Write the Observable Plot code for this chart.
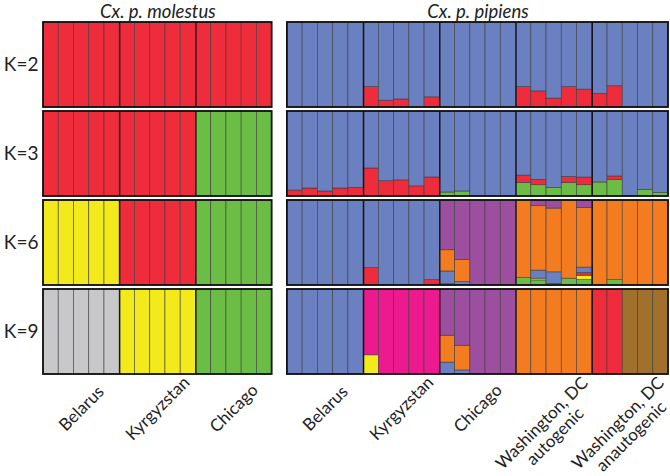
<!DOCTYPE html>
<html><head><meta charset="utf-8">
<script src="https://cdn.jsdelivr.net/npm/d3@7"></script>
<script src="https://cdn.jsdelivr.net/npm/@observablehq/plot@0.6"></script>
<style>body{margin:0;background:#fff;}</style>
</head><body><div id="chart"></div>
<script>
// ---- categories ----
const Ks = ["K=2", "K=3", "K=6", "K=9"];
const groups = ["Cx. p. molestus", "Cx. p. pipiens"];
const popsMolestus = ["Belarus", "Kyrgyzstan", "Chicago"];
const popsPipiens = ["Belarus", "Kyrgyzstan", "Chicago", "Washington, DC\nautogenic", "Washington, DC\nanautogenic"];
const perPop = 5;

// ---- clusters and colours ----
const clusterNames = ["cBlue", "cRed", "cGreen", "cYellow", "cOrange", "cPurple", "cPink", "cGray", "cBrown"];
const clusterColors = ["#6b80c0", "#ee2c3c", "#6bbd45", "#f3ea1c", "#f47c20", "#9b4f9e", "#ec1a8e", "#c8c8ca", "#a0702c"];

// ---- Cx. p. molestus: one cluster per population ----
const molestusK2 = ["cRed", "cRed", "cRed"];
const molestusK3 = ["cRed", "cRed", "cGreen"];
const molestusK6 = ["cYellow", "cRed", "cGreen"];
const molestusK9 = ["cGray", "cYellow", "cGreen"];

// ---- Cx. p. pipiens: 25 individuals (5 per population) ----
// K=2: red share (rest blue)
const pipiensK2red = [0,0,0,0,0, 0.24,0.08,0.095,0,0.12, 0,0,0,0,0, 0.24,0.19,0.105,0.24,0.21, 0.16,0.25,0,0,0];
// K=3: green (bottom) and red shares (rest blue)
const pipiensK3green = [0,0,0,0,0, 0,0,0,0,0, 0.047,0.059,0,0,0, 0.16,0.133,0.10,0.16,0.133, 0.165,0.196,0,0.078,0.043];
const pipiensK3red = [0.07,0.094,0.059,0.094,0.102, 0.33,0.18,0.19,0.12,0.224, 0,0,0,0,0, 0.086,0.063,0,0.07,0.09, 0,0.04,0,0,0];
// K=6: components bottom to top
const pipiensK6 = [
  [["cBlue",1]], [["cBlue",1]], [["cBlue",1]], [["cBlue",1]], [["cBlue",1]],
  [["cRed",0.205],["cBlue",0.795]], [["cBlue",1]], [["cBlue",1]], [["cBlue",1]], [["cRed",0.063],["cBlue",0.937]],
  [["cGreen",0.015],["cBlue",0.15],["cOrange",0.25],["cPurple",0.585]], [["cBlue",0.04],["cOrange",0.26],["cPurple",0.70]], [["cPurple",1]], [["cPurple",1]], [["cPurple",1]],
  [["cGreen",0.087],["cOrange",0.913]],
  [["cGreen",0.06],["cYellow",0.02],["cBlue",0.095],["cOrange",0.758],["cPurple",0.067]],
  [["cGreen",0.02],["cBlue",0.135],["cOrange",0.75],["cPurple",0.095]],
  [["cGreen",0.08],["cOrange",0.92]],
  [["cGreen",0.063],["cYellow",0.052],["cRed",0.032],["cBlue",0.063],["cOrange",0.703],["cPurple",0.087]],
  [["cOrange",1]], [["cGreen",0.063],["cOrange",0.937]], [["cOrange",1]], [["cOrange",1]], [["cOrange",1]]
];
// K=9: components bottom to top
const pipiensK9 = [
  [["cBlue",1]], [["cBlue",1]], [["cBlue",1]], [["cBlue",1]], [["cBlue",1]],
  [["cYellow",0.226],["cPink",0.774]], [["cPink",1]], [["cPink",1]], [["cPink",1]], [["cPink",1]],
  [["cBlue",0.139],["cOrange",0.317],["cPurple",0.544]], [["cBlue",0.048],["cOrange",0.29],["cPurple",0.662]], [["cPurple",1]], [["cPurple",1]], [["cPurple",1]],
  [["cOrange",1]], [["cOrange",1]], [["cOrange",1]], [["cOrange",1]], [["cOrange",1]],
  [["cRed",1]], [["cRed",1]], [["cBrown",1]], [["cBrown",1]], [["cBrown",1]]
];

// ---- build table ----
const molStart = 0, pipStart = molestusK2.length * perPop + 1;
const molEnd = molStart + popsMolestus.length * perPop;
const pipEnd = pipStart + popsPipiens.length * perPop;
const rows = [];
function addInd(K, xi, comps) {
  let acc = 0;
  for (const [cluster, q] of comps) {
    rows.push({K, x1: xi, x2: xi + 1, y1: acc, y2: acc + q, cluster});
    acc += q;
  }
}
const molestusByK = {"K=2": molestusK2, "K=3": molestusK3, "K=6": molestusK6, "K=9": molestusK9};
for (const K of Ks) {
  molestusByK[K].forEach((c, p) => {
    for (let j = 0; j < perPop; j++) addInd(K, molStart + p * perPop + j, [[c, 1]]);
  });
}
pipiensK2red.forEach((r, i) => addInd("K=2", pipStart + i, [["cRed", r], ["cBlue", 1 - r]]));
pipiensK3red.forEach((r, i) => {
  const g = pipiensK3green[i];
  addInd("K=3", pipStart + i, [["cGreen", g], ["cRed", r], ["cBlue", 1 - g - r]]);
});
pipiensK6.forEach((c, i) => addInd("K=6", pipStart + i, c));
pipiensK9.forEach((c, i) => addInd("K=9", pipStart + i, c));
const data = rows.filter(d => d.y2 - d.y1 > 0);

const panels = [{x1: molStart, x2: molEnd, name: groups[0]}, {x1: pipStart, x2: pipEnd, name: groups[1]}];
const separators = [];
popsMolestus.forEach((p, j) => { if (j > 0) separators.push(molStart + j * perPop); });
popsPipiens.forEach((p, j) => { if (j > 0) separators.push(pipStart + j * perPop); });
const popLabels = [
  ...popsMolestus.map((name, j) => ({name, x: molStart + j * perPop + perPop / 2})),
  ...popsPipiens.map((name, j) => ({name, x: pipStart + j * perPop + perPop / 2}))
];

const chart = Plot.plot({
  width: 670,
  height: 476,
  marginTop: 21,
  marginBottom: 101,
  marginLeft: 43,
  marginRight: 2,
  style: {fontFamily: "Lato, 'Open Sans', sans-serif", background: "#fff", overflow: "visible"},
  x: {domain: [0, pipEnd], axis: null},
  y: {domain: [0, 1], axis: null},
  fy: {domain: Ks, paddingInner: 0.045, paddingOuter: 0, axis: null},
  color: {type: "ordinal", domain: clusterNames, range: clusterColors},
  marks: [
    Plot.rect(data, {x1: "x1", x2: "x2", y1: "y1", y2: "y2", fy: "K", fill: "cluster", stroke: "#3a3a3a", strokeWidth: 0.7, strokeOpacity: 0.8}),
    Plot.ruleX(separators, {x: d => d, y1: 0, y2: 1, stroke: "#111", strokeWidth: 1.3}),
    Plot.rect(panels, {x1: "x1", x2: "x2", y1: 0, y2: 1, fill: "none", stroke: "#111", strokeWidth: 1.8}),
    Plot.text(panels, {x: d => (d.x1 + d.x2) / 2, y: 1, fy: () => "K=2", text: "name", dy: -10, fontSize: 18.5, fontStyle: "italic", fill: "#222"}),
    Plot.text(Ks, {fy: d => d, text: d => d, frameAnchor: "left", textAnchor: "end", dx: -5, fontSize: 19, fill: "#222"}),
    Plot.text(popLabels.filter(d => !d.name.includes("\n")), {x: "x", y: 0, fy: () => "K=9", text: "name", rotate: -45, dy: 34, fontSize: 17, fill: "#222"}),
    Plot.text(popLabels.filter(d => d.name.includes("\n")), {x: "x", y: 0, fy: () => "K=9", text: "name", rotate: -45, dy: 55, dx: -6, fontSize: 17, lineHeight: 1.1, fill: "#222"})
  ]
});
document.getElementById("chart").appendChild(chart);
</script>
</body></html>
